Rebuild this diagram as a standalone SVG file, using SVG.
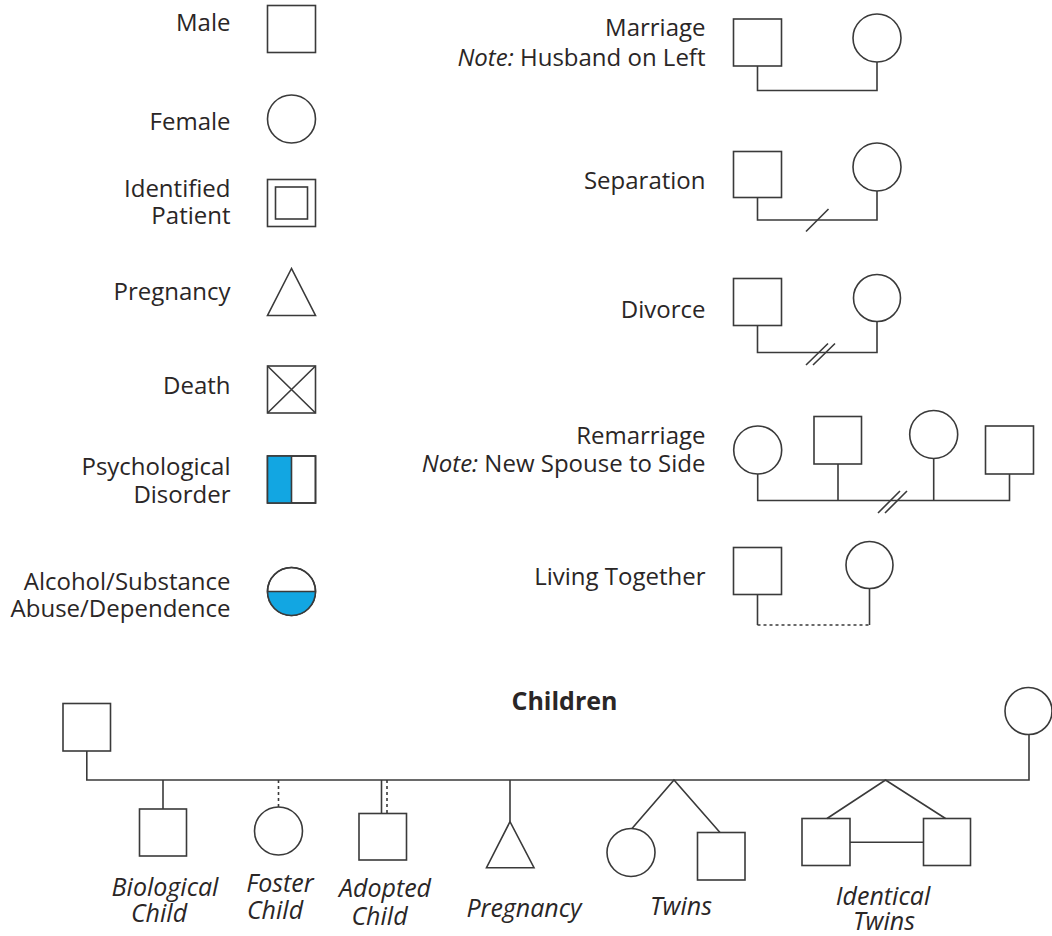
<svg xmlns="http://www.w3.org/2000/svg" width="1052" height="936" viewBox="0 0 1052 936">
<style>
.s{fill:#fff;stroke:#3a3a3a;stroke-width:1.6}
.ln{fill:none;stroke:#3a3a3a;stroke-width:1.6}
.dash{fill:none;stroke:#3a3a3a;stroke-width:1.6;stroke-dasharray:3 3}
.blue{fill:#12A6E2;stroke:none}
.t{font-family:"Open Sans","DejaVu Sans",sans-serif;font-size:24px;fill:#2a2626}
.r{text-anchor:end}
.i{font-style:italic}
.c{text-anchor:middle}
.ci{font-size:25px}
.b{font-weight:bold;font-size:25px}
</style>
<rect width="1052" height="936" fill="#fff"/>

<g id="legend-male">
<text class="t r" x="230.5" y="30.5">Male</text>
<rect class="s" x="267.5" y="5.5" width="48" height="47"/>
</g>
<g id="legend-female">
<text class="t r" x="230.5" y="129.5">Female</text>
<circle class="s" cx="291.5" cy="119" r="24"/>
</g>
<g id="legend-identified-patient">
<text class="t r" x="230.5" y="196.5">Identified</text>
<text class="t r" x="230.5" y="224">Patient</text>
<rect class="s" x="267.5" y="179.5" width="48" height="47"/>
<rect class="s" x="275.5" y="187" width="32" height="32"/>
</g>
<g id="legend-pregnancy">
<text class="t r" x="230.5" y="300">Pregnancy</text>
<polygon class="s" points="291.5,268.5 267.5,315.5 315.5,315.5"/>
</g>
<g id="legend-death">
<text class="t r" x="230.5" y="394">Death</text>
<rect class="s" x="267.5" y="366" width="48" height="47"/>
<path class="ln" d="M267.5,366 L315.5,413 M315.5,366 L267.5,413"/>
</g>
<g id="legend-psychological">
<text class="t r" x="230.5" y="475">Psychological</text>
<text class="t r" x="230.5" y="503">Disorder</text>
<rect class="s" x="267.5" y="456" width="48" height="47"/>
<rect class="blue" x="267.5" y="456" width="24" height="47"/>
<rect class="ln" x="267.5" y="456" width="48" height="47"/>
<path class="ln" d="M291.5,456 V503"/>
</g>
<g id="legend-alcohol">
<text class="t r" x="230.5" y="590">Alcohol/Substance</text>
<text class="t r" x="230.5" y="616.5">Abuse/Dependence</text>
<circle class="s" cx="291.5" cy="591.5" r="24"/>
<path class="blue" d="M267.5,591.5 A24,24 0 0 0 315.5,591.5 Z"/>
<circle class="ln" cx="291.5" cy="591.5" r="24"/>
<path class="ln" d="M267.5,591.5 H315.5"/>
</g>

<g id="legend-marriage">
<text class="t r" x="705.5" y="36">Marriage</text>
<text class="t r" x="705.5" y="65.5"><tspan class="i">Note:</tspan> Husband on Left</text>
<rect class="s" x="733.5" y="19" width="48" height="47"/>
<circle class="s" cx="877" cy="38" r="24"/>
</g>
<g id="legend-separation">
<text class="t r" x="705.5" y="189">Separation</text>
<rect class="s" x="733.5" y="151.5" width="48" height="46"/>
<circle class="s" cx="877" cy="167" r="24"/>
</g>
<g id="legend-divorce">
<text class="t r" x="705.5" y="318">Divorce</text>
<rect class="s" x="733.5" y="278.5" width="48" height="47"/>
<circle class="s" cx="877" cy="298" r="23.5"/>
</g>
<g id="legend-remarriage">
<text class="t r" x="705.5" y="444">Remarriage</text>
<text class="t r" x="705.5" y="471.5"><tspan class="i">Note:</tspan> New Spouse to Side</text>
<circle class="s" cx="757.7" cy="450" r="24"/>
<rect class="s" x="814" y="416.5" width="47.5" height="47.5"/>
<circle class="s" cx="933.7" cy="434.5" r="24"/>
<rect class="s" x="985.5" y="426" width="48" height="48"/>
</g>
<g id="legend-living-together">
<text class="t r" x="705.5" y="585">Living Together</text>
<rect class="s" x="733.5" y="547.5" width="48" height="47"/>
<circle class="s" cx="869.5" cy="565" r="23.5"/>
</g>

<g id="children-title">
<text class="t c b" x="564.5" y="710">Children</text>
</g>
<g id="father">
<rect class="s" x="63" y="703.5" width="47.5" height="47.5"/>
</g>
<g id="mother">
<circle class="s" cx="1028.5" cy="711" r="23.5"/>
</g>
<g id="biological-child">
<rect class="s" x="139.5" y="809" width="47" height="47"/>
<text class="t c i ci" x="165" y="896">Biological</text>
<text class="t c i ci" x="159" y="922">Child</text>
</g>
<g id="foster-child">
<circle class="s" cx="278.5" cy="831" r="24"/>
<text class="t c i ci" x="280" y="891.5">Foster</text>
<text class="t c i ci" x="275" y="919">Child</text>
</g>
<g id="adopted-child">
<rect class="s" x="359" y="813.5" width="47.5" height="46.5"/>
<text class="t c i ci" x="385" y="896.5">Adopted</text>
<text class="t c i ci" x="379.5" y="924.5">Child</text>
</g>
<g id="pregnancy-child">
<polygon class="s" points="510,821.7 486.5,867.7 534,867.7"/>
<text class="t c i ci" x="524" y="916.5">Pregnancy</text>
</g>
<g id="twins">
<circle class="s" cx="631" cy="852.5" r="24"/>
<rect class="s" x="697.5" y="832.5" width="47.5" height="47.5"/>
<text class="t c i ci" x="681" y="915">Twins</text>
</g>
<g id="identical-twins">
<rect class="s" x="802" y="818.5" width="48" height="47"/>
<rect class="s" x="923.5" y="818.5" width="47" height="47"/>
<text class="t c i ci" x="883" y="905">Identical</text>
<text class="t c i ci" x="884" y="930">Twins</text>
</g>

<g id="connectors">
<path class="ln" d="M757.5,66 V90.5 H877 V62"/>
<path class="ln" d="M757.5,197.5 V220 H877 V191"/>
<path class="ln" d="M806,231.5 L828.5,209"/>
<path class="ln" d="M757.5,325.5 V352.5 H877 V321.5"/>
<path class="ln" d="M806,365 L828,343.5 M813,365 L835,343.5"/>
<path class="ln" d="M757.7,474 V500.5 H1009.5 V474 M838,464 V500.5 M933.7,458.5 V500.5"/>
<path class="ln" d="M878,513 L900,491 M885,513 L907,491"/>
<path class="ln" d="M757.5,594.5 V625 M869.5,588.5 V625"/>
<path class="dash" d="M757.5,625 H869.5"/>
<path class="ln" d="M86.8,751 V780 H1029 V734.5"/>
<path class="ln" d="M163,780 V809"/>
<path class="dash" d="M278.5,780 V807"/>
<path class="ln" d="M381.5,780 V813.5"/>
<path class="dash" d="M387,780 V813.5"/>
<path class="ln" d="M510,780 V821.7"/>
<path class="ln" d="M632,828.5 L674,780 L720,832.5"/>
<path class="ln" d="M827,818.5 L885.5,780 L945.5,818.5"/>
<path class="ln" d="M850,842.3 H923.5"/>
</g>
</svg>
